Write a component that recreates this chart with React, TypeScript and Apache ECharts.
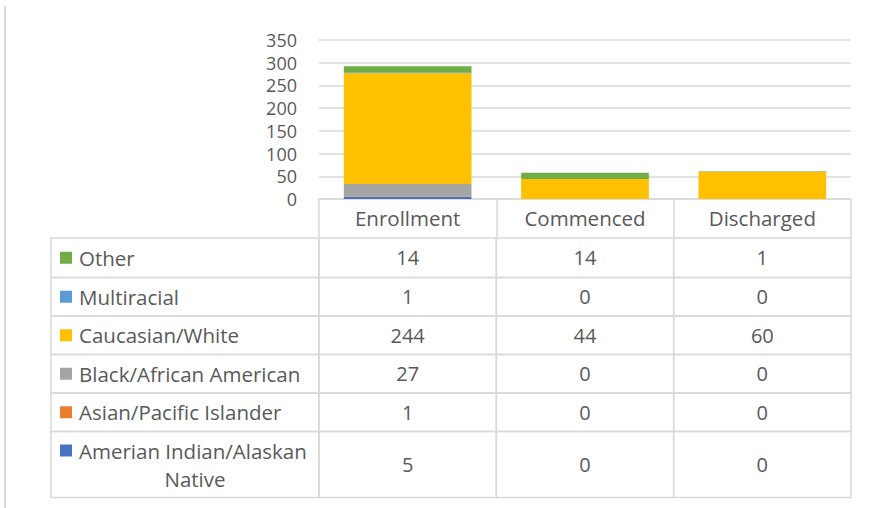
import React, { useEffect, useRef } from "react";
import * as echarts from "echarts";

const categories = ["Enrollment", "Commenced", "Discharged"];
// bottom-to-top stacking order
const seriesNames = [
  "Amerian Indian/Alaskan Native",
  "Asian/Pacific Islander",
  "Black/African American",
  "Caucasian/White",
  "Multiracial",
  "Other",
];
const seriesColors = ["#4472C4", "#ED7D31", "#A5A5A5", "#FFC000", "#5B9BD5", "#70AD47"];
const americanIndian = [5, 0, 0];
const asian = [1, 0, 0];
const black = [27, 0, 0];
const caucasian = [244, 44, 60];
const multiracial = [1, 0, 0];
const other = [14, 14, 1];
const seriesValues = [americanIndian, asian, black, caucasian, multiracial, other];
const yTicks = { min: 0, max: 350, interval: 50 };

// table rows, top to bottom (reverse of stacking order)
const tableOrder = [5, 4, 3, 2, 1, 0];

const TEXT = "#595959";
const LINE = "#d9d9d9";
const FONT = "Open Sans";
const FS_LABEL = 20.5;
const FS_NUM = 20;
const FS_Y = 18;
const HEADER_H = 39;
const ROW_H = [39.5, 38.5, 38.5, 38.5, 38.5, 66];
const TABLE_LEFT = 51;

function rowTop(r: number) {
  let t = 0;
  for (let i = 0; i < r; i++) t += ROW_H[i];
  return t;
}

export default function App() {
  const ref = useRef<HTMLDivElement>(null);
  useEffect(() => {
    if (!ref.current) return;
    const chart = echarts.init(ref.current, undefined, { renderer: "svg" });

    const barSeries = seriesNames.map((name, i) => ({
      name,
      type: "bar",
      stack: "total",
      data: seriesValues[i],
      itemStyle: { color: seriesColors[i] },
      barCategoryGap: "28%",
    }));

    const cellData: number[][] = [];
    tableOrder.forEach((si, r) => {
      categories.forEach((_, c) => cellData.push([c, r, seriesValues[si][c]]));
    });
    const labelData: number[][] = tableOrder.map((si, r) => [0, r, si]);

    const labelFont = `${FS_LABEL}px "${FONT}"`;
    const numFont = `${FS_NUM}px "${FONT}"`;

    const cellSeries = {
      type: "custom",
      name: "table",
      clip: false,
      silent: true,
      data: cellData,
      renderItem: (params: any, api: any) => {
        const c = api.value(0);
        const r = api.value(1);
        const v = api.value(2);
        const p = api.coord([c, 0]);
        const bw = api.size([1, 0])[0];
        const top = p[1] + HEADER_H + rowTop(r);
        const h = ROW_H[r];
        return {
          type: "group",
          children: [
            {
              type: "rect",
              shape: { x: p[0] - bw / 2, y: top, width: bw, height: h },
              style: { fill: "none", stroke: LINE, lineWidth: 1.5 },
            },
            {
              type: "text",
              style: {
                text: String(v),
                x: p[0],
                y: top + h / 2,
                align: "center",
                verticalAlign: "middle",
                font: numFont,
                fill: TEXT,
              },
            },
          ],
        };
      },
    };

    const labelSeries = {
      type: "custom",
      name: "tableLabels",
      clip: false,
      silent: true,
      data: labelData,
      renderItem: (params: any, api: any) => {
        const r = api.value(1);
        const si = api.value(2);
        const p = api.coord([0, 0]);
        const bw = api.size([1, 0])[0];
        const right = p[0] - bw / 2;
        const top = p[1] + HEADER_H + rowTop(r);
        const h = ROW_H[r];
        const name = seriesNames[si];
        const twoLine = r === tableOrder.length - 1;
        const firstMid = twoLine ? top + 19 : top + h / 2;
        const children: any[] = [
          {
            type: "rect",
            shape: { x: TABLE_LEFT, y: top, width: right - TABLE_LEFT, height: h },
            style: { fill: "none", stroke: LINE, lineWidth: 1.5 },
          },
          {
            type: "rect",
            shape: { x: TABLE_LEFT + 9, y: firstMid - 6, width: 12, height: 12 },
            style: { fill: seriesColors[si] },
          },
        ];
        if (twoLine) {
          const parts = name.split(" ");
          const last = parts.pop() as string;
          children.push({
            type: "text",
            style: { text: parts.join(" "), x: TABLE_LEFT + 28, y: firstMid, align: "left", verticalAlign: "middle", font: labelFont, fill: TEXT },
          });
          children.push({
            type: "text",
            style: { text: last, x: TABLE_LEFT + 144, y: top + 47, align: "center", verticalAlign: "middle", font: labelFont, fill: TEXT },
          });
        } else {
          children.push({
            type: "text",
            style: { text: name, x: TABLE_LEFT + 28, y: firstMid, align: "left", verticalAlign: "middle", font: labelFont, fill: TEXT },
          });
        }
        return { type: "group", children };
      },
    };

    chart.setOption({
      animation: false,
      backgroundColor: "#ffffff",
      textStyle: { fontFamily: FONT },
      grid: { left: 319, right: 18, top: 40, bottom: 309, containLabel: false },
      graphic: [
        {
          type: "line",
          shape: { x1: 5, y1: 6, x2: 5, y2: 508 },
          style: { stroke: "#d9d9d9", lineWidth: 2 },
        },
      ],
      xAxis: {
        type: "category",
        data: categories,
        boundaryGap: true,
        axisLine: { show: true, lineStyle: { color: LINE, width: 1.5 } },
        axisTick: { show: true, length: HEADER_H, interval: 0, lineStyle: { color: LINE, width: 1.5 } },
        axisLabel: { color: TEXT, fontSize: FS_LABEL, fontFamily: FONT, margin: 8, interval: 0, lineHeight: 22 },
      },
      yAxis: {
        type: "value",
        min: yTicks.min,
        max: yTicks.max,
        interval: yTicks.interval,
        axisLine: { show: false },
        axisTick: { show: false },
        axisLabel: { color: TEXT, fontSize: FS_Y, fontFamily: FONT, margin: 22, lineHeight: 18 },
        splitLine: { lineStyle: { color: LINE, width: 1.5 } },
      },
      series: [...barSeries, cellSeries, labelSeries],
    });
    return () => chart.dispose();
  }, []);
  return (
    <div
      ref={ref}
      style={{ position: "fixed", left: 0, top: 0, width: 869, height: 508, background: "#fff" }}
    />
  );
}
